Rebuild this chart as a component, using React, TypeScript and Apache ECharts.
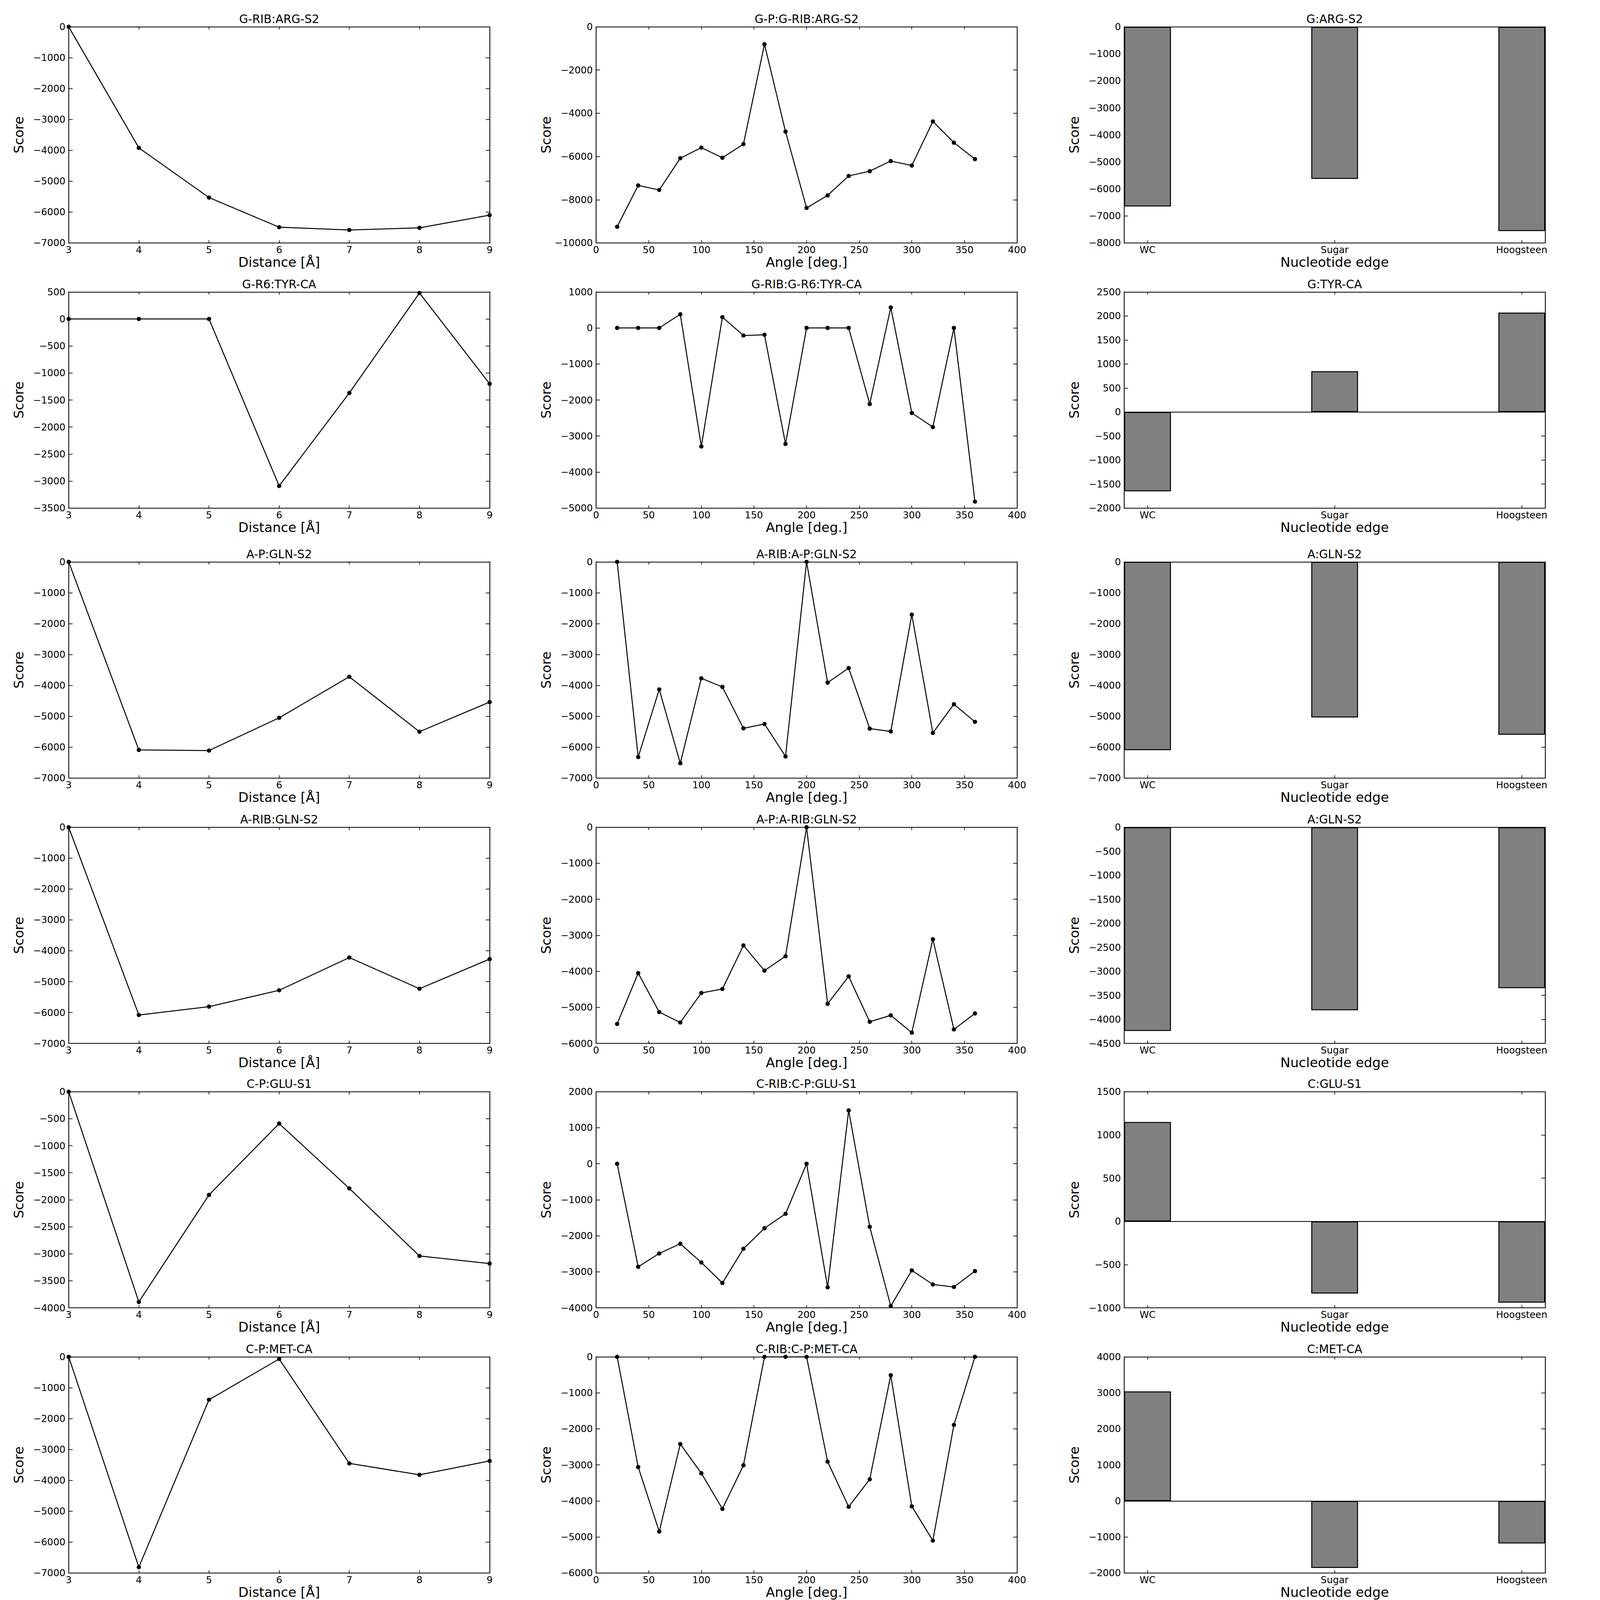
import React, { useEffect, useRef } from "react";
import * as echarts from "echarts";

// ---------- data ----------
const distances = [3, 4, 5, 6, 7, 8, 9];
const angles = [20, 40, 60, 80, 100, 120, 140, 160, 180, 200, 220, 240, 260, 280, 300, 320, 340, 360];
const edges = ["WC", "Sugar", "Hoogsteen"];

// Row 1
const gRibArgS2 = [0, -3920, -5530, -6490, -6580, -6510, -6100];
const gPgRibArgS2 = [-9250, -7340, -7550, -6080, -5590, -6060, -5430, -810, -4850, -8380, -7800, -6900, -6680, -6210, -6420, -4380, -5360, -6120];
const gArgS2 = [-6650, -5630, -7560];
// Row 2
const gR6TyrCa = [0, 0, 0, -3090, -1370, 480, -1200];
const gRibgR6TyrCa = [0, 0, 0, 380, -3290, 300, -210, -190, -3220, 0, 0, 0, -2110, 570, -2360, -2750, 0, -4820];
const gTyrCa = [-1650, 850, 2070];
// Row 3
const aPGlnS2 = [0, -6090, -6110, -5050, -3720, -5500, -4540];
const aRibaPGlnS2 = [0, -6320, -4130, -6520, -3770, -4050, -5390, -5250, -6300, 0, -3910, -3440, -5400, -5490, -1710, -5540, -4610, -5180];
const aGlnS2First = [-6100, -5040, -5600];
// Row 4
const aRibGlnS2 = [0, -6080, -5810, -5280, -4220, -5230, -4270];
const aPaRibGlnS2 = [-5460, -4050, -5130, -5420, -4600, -4490, -3280, -3980, -3580, 0, -4900, -4140, -5400, -5220, -5700, -3110, -5610, -5170];
const aGlnS2Second = [-4240, -3810, -3350];
// Row 5
const cPGluS1 = [0, -3890, -1910, -590, -1790, -3040, -3180];
const cRibcPGluS1 = [0, -2860, -2490, -2220, -2740, -3310, -2360, -1790, -1390, 0, -3430, 1480, -1750, -3950, -2960, -3350, -3420, -2980];
const cGluS1 = [1150, -835, -940];
// Row 6
const cPMetCa = [0, -6810, -1390, -70, -3450, -3820, -3370];
const cRibcPMetCa = [0, -3060, -4850, -2420, -3230, -4220, -3010, 0, 0, 0, -2910, -4160, -3400, -510, -4150, -5100, -1890, 0];
const cMetCa = [3040, -1860, -1180];

const distanceTitles = ["G-RIB:ARG-S2", "G-R6:TYR-CA", "A-P:GLN-S2", "A-RIB:GLN-S2", "C-P:GLU-S1", "C-P:MET-CA"];
const angleTitles = ["G-P:G-RIB:ARG-S2", "G-RIB:G-R6:TYR-CA", "A-RIB:A-P:GLN-S2", "A-P:A-RIB:GLN-S2", "C-RIB:C-P:GLU-S1", "C-RIB:C-P:MET-CA"];
const edgeTitles = ["G:ARG-S2", "G:TYR-CA", "A:GLN-S2", "A:GLN-S2", "C:GLU-S1", "C:MET-CA"];

const distanceSeries = [gRibArgS2, gR6TyrCa, aPGlnS2, aRibGlnS2, cPGluS1, cPMetCa];
const angleSeries = [gPgRibArgS2, gRibgR6TyrCa, aRibaPGlnS2, aPaRibGlnS2, cRibcPGluS1, cRibcPMetCa];
const edgeSeries = [gArgS2, gTyrCa, aGlnS2First, aGlnS2Second, cGluS1, cMetCa];

// y ranges [min, max, interval]
const distanceYRanges = [[-7000, 0, 1000], [-3500, 500, 500], [-7000, 0, 1000], [-7000, 0, 1000], [-4000, 0, 500], [-7000, 0, 1000]];
const angleYRanges = [[-10000, 0, 2000], [-5000, 1000, 1000], [-7000, 0, 1000], [-6000, 0, 1000], [-4000, 2000, 1000], [-6000, 0, 1000]];
const edgeYRanges = [[-8000, 0, 1000], [-2000, 2500, 500], [-7000, 0, 1000], [-4500, 0, 500], [-1000, 1500, 500], [-2000, 4000, 1000]];

// ---------- layout (reference pixel space 4869 x 6994) ----------
const REF_W = 4869;
const REF_H = 6994;
const rowTops = [117, 1276, 2456, 3616, 4772, 5931];
const colLefts = [209, 1814, 3421];
const plotW = 1281;
const plotH = 945;
const FONT = "DejaVu Sans";

const fmtNum = (v: number) => (v < 0 ? "\u2212" + Math.abs(v) : String(v));

function buildOption(W: number, H: number) {
  const sx = W / REF_W;
  const sy = H / REF_H;
  const k = sx; // stroke scale
  const kf = 0.6 * sx + 0.4 * sy; // font scale
  const TICK_FS = 33 * kf;
  const NAME_FS = 46 * kf;
  const TITLE_FS = 40 * kf;

  const grid: any[] = [];
  const xAxis: any[] = [];
  const yAxis: any[] = [];
  const series: any[] = [];
  const graphic: any[] = [];

  const axisLine = { show: true, onZero: false, lineStyle: { color: "#000", width: 2.5 * k } };
  const tickV = { show: true, inside: true, length: 12 * sy, lineStyle: { color: "#000", width: 2 * k } };
  const tickH = { show: true, inside: true, length: 12 * sx, lineStyle: { color: "#000", width: 2 * k } };

  const gw = plotW * sx;
  const gh = plotH * sy;

  const addPanel = (r: number, c: number, title: string, xCfg: any, yr: number[], xName: string, seriesCfg: any) => {
    const gi = grid.length;
    const left = colLefts[c] * sx;
    const top = rowTops[r] * sy;
    grid.push({ left, top, width: gw, height: gh, containLabel: false });
    const custom = xCfg.custom ? { customValues: xCfg.custom } : {};
    const xb = xAxis.length;
    xAxis.push({
      type: "value",
      gridIndex: gi,
      position: "bottom",
      ...xCfg.range,
      axisLine,
      axisTick: { ...tickV, ...custom },
      axisLabel: {
        show: true,
        color: "#000",
        fontFamily: FONT,
        fontSize: TICK_FS,
        margin: 10 * sy,
        showMinLabel: true,
        showMaxLabel: true,
        formatter: xCfg.formatter,
        ...custom,
      },
      splitLine: { show: false },
      name: xName,
      nameLocation: "middle",
      nameGap: 55 * sy,
      nameTextStyle: { color: "#000", fontFamily: FONT, fontSize: NAME_FS },
    });
    xAxis.push({
      type: "value",
      gridIndex: gi,
      position: "top",
      ...xCfg.range,
      axisLine,
      axisTick: { ...tickV, ...custom },
      axisLabel: { show: false },
      splitLine: { show: false },
    });
    const yl = yAxis.length;
    yAxis.push({
      type: "value",
      gridIndex: gi,
      position: "left",
      min: yr[0],
      max: yr[1],
      interval: yr[2],
      axisLine,
      axisTick: tickH,
      axisLabel: {
        show: true,
        color: "#000",
        fontFamily: FONT,
        fontSize: TICK_FS,
        margin: 10 * sx,
        showMinLabel: true,
        showMaxLabel: true,
        formatter: fmtNum,
      },
      splitLine: { show: false },
      name: "Score",
      nameLocation: "middle",
      nameGap: 132 * sx,
      nameTextStyle: { color: "#000", fontFamily: FONT, fontSize: NAME_FS },
    });
    yAxis.push({
      type: "value",
      gridIndex: gi,
      position: "right",
      min: yr[0],
      max: yr[1],
      interval: yr[2],
      axisLine,
      axisTick: tickH,
      axisLabel: { show: false },
      splitLine: { show: false },
    });
    series.push({ ...seriesCfg, xAxisIndex: xb, yAxisIndex: yl });
    graphic.push({
      type: "text",
      x: left + gw / 2,
      y: top - 8 * sy,
      style: {
        text: title,
        fill: "#000",
        font: `${TITLE_FS}px "${FONT}"`,
        textAlign: "center",
        textVerticalAlign: "bottom",
      },
    });
  };

  const lineSeries = (xs: number[], ys: number[]) => ({
    type: "line",
    data: xs.map((x, i) => [x, ys[i]]),
    symbol: "circle",
    symbolSize: 13 * k,
    showSymbol: true,
    itemStyle: { color: "#000" },
    lineStyle: { color: "#000", width: 3 * k },
    clip: true,
    z: 3,
  });

  const barW = (0.25 / 2.25) * gw;

  for (let r = 0; r < 6; r++) {
    addPanel(r, 0, distanceTitles[r], { range: { min: 3, max: 9, interval: 1 }, formatter: fmtNum },
      distanceYRanges[r], "Distance [\u00c5]", lineSeries(distances, distanceSeries[r]));
    addPanel(r, 1, angleTitles[r], { range: { min: 0, max: 400, interval: 50 }, formatter: fmtNum },
      angleYRanges[r], "Angle [deg.]", lineSeries(angles, angleSeries[r]));
    addPanel(
      r,
      2,
      edgeTitles[r],
      { range: { min: -0.125, max: 2.125 }, custom: [0, 1, 2], formatter: (v: number) => edges[Math.round(v)] ?? "" },
      edgeYRanges[r],
      "Nucleotide edge",
      {
        type: "bar",
        data: edgeSeries[r].map((v, i) => [i, v]),
        barWidth: barW,
        itemStyle: { color: "#808080", borderColor: "#000", borderWidth: 3 * k },
        markLine: {
          silent: true,
          symbol: "none",
          label: { show: false },
          lineStyle: { color: "#000", width: 2.5 * k, type: "solid" },
          data: [{ yAxis: 0 }],
        },
      }
    );
  }

  return {
    animation: false,
    backgroundColor: "#fff",
    textStyle: { fontFamily: FONT },
    grid,
    xAxis,
    yAxis,
    series,
    graphic,
  };
}

export default function App() {
  const ref = useRef<HTMLDivElement>(null);
  useEffect(() => {
    const el = ref.current;
    if (!el) return;
    const W = el.clientWidth || REF_W;
    const H = el.clientHeight || REF_H;
    const chart = echarts.init(el, undefined, { renderer: "svg", width: W, height: H });
    chart.setOption(buildOption(W, H) as any);
    return () => chart.dispose();
  }, []);
  return (
    <div
      ref={ref}
      style={{
        position: "absolute",
        left: 0,
        top: 0,
        width: "100vw",
        height: "100vh",
        maxWidth: REF_W,
        maxHeight: REF_H,
        overflow: "hidden",
        background: "#fff",
      }}
    />
  );
}
